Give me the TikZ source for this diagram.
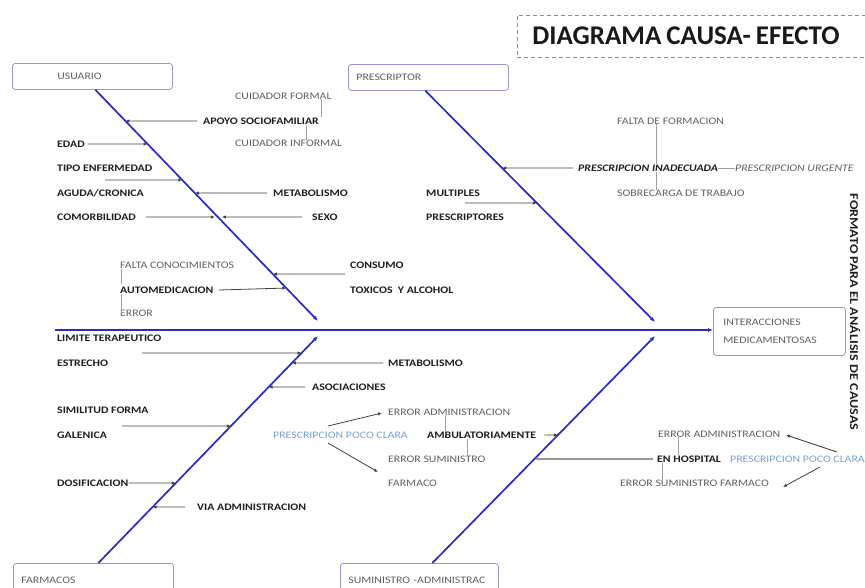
\documentclass[tikz,border=0pt]{standalone}
\usepackage{fontspec}
\setmainfont{Carlito}
\newfontfamily\smf{Carlito}[FakeStretch=1.18]
\usetikzlibrary{arrows.meta,calc}
\definecolor{bonec}{RGB}{42,42,196}
\definecolor{boxc}{RGB}{150,150,215}
\definecolor{txtd}{RGB}{30,30,30}
\definecolor{txtg}{RGB}{95,95,95}
\definecolor{txtb}{RGB}{120,160,210}
\definecolor{titlec}{RGB}{120,145,175}
\begin{document}
\begin{tikzpicture}[x=1pt,y=-1pt,
  lbl/.style={anchor=west,inner sep=0pt,font=\smf\fontsize{10}{12}\selectfont\bfseries,text=txtd},
  lbli/.style={lbl,font=\smf\fontsize{10}{12}\selectfont\bfseries\itshape},
  sub/.style={anchor=west,inner sep=0pt,font=\smf\fontsize{10}{12}\selectfont,text=txtg},
  subi/.style={sub,font=\smf\fontsize{10}{12}\selectfont\itshape},
  blu/.style={sub,text=txtb},
  catbox/.style={draw=boxc,line width=0.8pt,rounded corners=3pt,anchor=north west,
    minimum width=160pt,minimum height=26pt,inner xsep=8pt,text width=144pt,align=left,
    font=\smf\fontsize{10}{12}\selectfont,text=txtg},
  bone/.style={draw=bonec,line width=1.7pt,-{Latex[length=5pt,width=4pt]}},
  cause/.style={draw=black!75,line width=0.8pt,-{Latex[length=4pt,width=3.4pt]}},
  link/.style={draw=gray!75,line width=0.6pt}]
\useasboundingbox (0,0) rectangle (865,587);

% title and side text
\node[draw=titlec,line width=0.9pt,dash pattern=on 4pt off 3pt,anchor=west,minimum width=360pt,
  minimum height=42pt,inner xsep=15pt,text width=330pt,align=left,
  font=\bfseries\fontsize{27}{31}\selectfont,text=black!90] (title) at (517,36)
  {DIAGRAMA\hspace{5pt}CAUSA-\hspace{5pt}EFECTO};
\node[rotate=-90,font=\smf\bfseries\fontsize{12}{14}\selectfont,text=txtd] (fmt) at (855,312)
  {FORMATO PARA EL ANÁLISIS DE CAUSAS};

% category boxes and effect
\node[catbox] (usuario) at (12,63) {\hspace*{37pt}USUARIO};
\node[catbox] (prescriptor) at (348,64) {PRESCRIPTOR};
\node[catbox,minimum height=34pt] (farmacos) at (13,563) {FARMACOS};
\node[catbox,minimum width=158pt,text width=142pt,minimum height=34pt] (suministro) at (340,563) {SUMINISTRO -ADMINISTRAC};
\node[catbox,minimum width=132pt,text width=112pt,inner xsep=10pt,minimum height=48pt,
  font=\smf\fontsize{10}{18}\selectfont] (efecto) at (713,307) {INTERACCIONES\\MEDICAMENTOSAS};

% spine
\coordinate (sp0) at (55,330);
\draw[bone] (sp0) -- (sp0 -| efecto.west);

% bones
\coordinate (uA) at ([xshift=3pt]usuario.south);
\coordinate (uB) at (318,321);
\coordinate (pA) at ([xshift=-3pt]prescriptor.south);
\coordinate (pB) at (655,322);
\coordinate (fA) at ([xshift=5pt]farmacos.north);
\coordinate (fB) at (318,336);
\coordinate (sA) at ([xshift=13pt]suministro.north);
\coordinate (sB) at (655,336);
\draw[bone] (uA) -- (uB);
\draw[bone] (pA) -- (pB);
\draw[bone] (fA) -- (fB);
\draw[bone] (sA) -- (sB);

% ---------- USUARIO ----------
\node[lbl] (apoyo) at (203,121) {APOYO SOCIOFAMILIAR};
\node[sub] (cform) at (235,96) {CUIDADOR FORMAL};
\node[sub] (cinf) at (235,143) {CUIDADOR INFORMAL};
\node[lbl] (edad) at (57,144) {EDAD};
\node[lbl] (tipo) at (57,168) {TIPO ENFERMEDAD};
\node[lbl] (aguda) at (57,193) {AGUDA/CRONICA};
\node[lbl] (metabU) at (273,193) {METABOLISMO};
\node[lbl] (comorb) at (57,217) {COMORBILIDAD};
\node[lbl] (sexo) at (312,217) {SEXO};
\node[sub] (faltaC) at (120,265) {FALTA CONOCIMIENTOS};
\node[lbl] (automed) at (120,290) {AUTOMEDICACION};
\node[sub] (error) at (120,313) {ERROR};
\node[lbl] (consumo) at (350,265) {CONSUMO};
\node[lbl] (toxicos) at (350,290) {TOXICOS\ \ Y ALCOHOL};

\coordinate (hApoyo) at (intersection of uA--uB and 0,121--1,121);
\coordinate (hEdad) at (intersection of uA--uB and 0,144--1,144);
\coordinate (hTipo) at (intersection of uA--uB and 0,180--1,180);
\coordinate (hMetU) at (intersection of uA--uB and 0,193--1,193);
\coordinate (hCom) at (intersection of uA--uB and 0,217--1,217);
\coordinate (hAuto) at (intersection of uA--uB and 0,288--1,288);
\coordinate (hCons) at (intersection of uA--uB and 0,274--1,274);
\coordinate (tTipo) at (105,180);
\coordinate (tCons) at (345,274);

\draw[cause] ([xshift=-6pt]apoyo.west) -- (hApoyo);
\draw[cause] ([xshift=3pt]edad.east) -- (hEdad);
\draw[cause] (tTipo) -- (hTipo);
\draw[cause] ([xshift=-6pt]metabU.west) -- (hMetU);
\draw[cause,shorten >=3pt] ([xshift=10pt]comorb.east) -- (hCom);
\draw[cause,shorten >=4pt] ([xshift=-10pt]sexo.west) -- (hCom);
\draw[cause] ([xshift=5pt]automed.east) -- (hAuto);
\draw[cause] (tCons) -- (hCons);

\draw[link] ([xshift=-10pt]cform.south east) -- ([xshift=-10pt]cform.south east |- apoyo.north);
\draw[link] ([xshift=103pt]apoyo.south west) -- ([xshift=103pt]apoyo.south west |- cinf.north);
\draw[link] ([xshift=1pt,yshift=-1pt]faltaC.south west) -- ([xshift=1pt,yshift=2pt]faltaC.south west |- automed.north);
\draw[link] ([xshift=1pt]automed.south west) -- ([xshift=1pt,yshift=3pt]automed.south west |- error.south);

% ---------- PRESCRIPTOR ----------
\node[sub] (faltaF) at (617,121) {FALTA DE FORMACION};
\node[lbli] (inad) at (578,168) {PRESCRIPCION INADECUADA};
\node[subi] (urg) at (735,168) {PRESCRIPCION URGENTE};
\node[sub] (sobre) at (617,193) {SOBRECARGA DE TRABAJO};
\node[lbl] (multi) at (426,193) {MULTIPLES};
\node[lbl] (presc) at (426,217) {PRESCRIPTORES};

\coordinate (hInad) at (intersection of pA--pB and 0,168--1,168);
\coordinate (hMulti) at (intersection of pA--pB and 0,203--1,203);
\coordinate (tMulti) at (465,203);
\draw[cause] ([xshift=-5pt]inad.west) -- (hInad);
\draw[cause] (tMulti) -- (hMulti);
\draw[link] (inad.east) -- (urg.west);
\draw[link] ([xshift=39pt]faltaF.south west) -- ([xshift=39pt]faltaF.south west |- inad.north);
\draw[link] ([xshift=39pt]faltaF.south west |- inad.south) -- ([xshift=39pt]faltaF.south west |- sobre.north);

% ---------- FARMACOS ----------
\node[lbl] (limite) at (57,338) {LIMITE TERAPEUTICO};
\node[lbl] (estrecho) at (57,363) {ESTRECHO};
\node[lbl] (metabF) at (388,363) {METABOLISMO};
\node[lbl] (asoc) at (312,387) {ASOCIACIONES};
\node[lbl] (simil) at (57,410) {SIMILITUD FORMA};
\node[lbl] (galen) at (57,435) {GALENICA};
\node[lbl] (dosif) at (57,483) {DOSIFICACION};
\node[lbl] (via) at (197,507) {VIA ADMINISTRACION};
\node[blu] (ppc1) at (273,435) {PRESCRIPCION POCO CLARA};

\coordinate (hLim) at (intersection of fA--fB and 0,353--1,353);
\coordinate (hMetF) at (intersection of fA--fB and 0,363--1,363);
\coordinate (hAsoc) at (intersection of fA--fB and 0,387--1,387);
\coordinate (hSim) at (intersection of fA--fB and 0,426--1,426);
\coordinate (hDos) at (intersection of fA--fB and 0,483--1,483);
\coordinate (hVia) at (intersection of fA--fB and 0,507--1,507);
\coordinate (tLim) at (142,353);
\coordinate (tSim) at (122,426);
\draw[cause] (tLim) -- (hLim);
\draw[cause] ([xshift=-5pt]metabF.west) -- (hMetF);
\draw[cause] ([xshift=-7pt]asoc.west) -- (hAsoc);
\draw[cause] (tSim) -- (hSim);
\draw[cause] (dosif.east) -- (hDos);
\draw[cause] ([xshift=-12pt]via.west) -- (hVia);

% ---------- SUMINISTRO ----------
\node[sub] (eadm1) at (388,412) {ERROR ADMINISTRACION};
\node[lbl] (ambu) at (427,435) {AMBULATORIAMENTE};
\node[sub] (esum1) at (388,459) {ERROR SUMINISTRO};
\node[sub] (farm1) at (388,483) {FARMACO};
\node[lbl] (ehosp) at (657,459) {EN HOSPITAL};
\node[sub] (eadm2) at (658,434) {ERROR ADMINISTRACION};
\node[sub] (esf) at (620,483) {ERROR SUMINISTRO FARMACO};
\node[blu] (ppc2) at (730,459) {PRESCRIPCION POCO CLARA};

\coordinate (hAmbu) at (intersection of sA--sB and 0,435--1,435);
\coordinate (hHosp) at (intersection of sA--sB and 0,459--1,459);
\draw[cause] ([xshift=8pt]ambu.east) -- (hAmbu);
\draw[cause,draw=gray!80,line width=1.6pt] ([xshift=-4pt]ehosp.west) -- (hHosp);

\coordinate (q1) at (328,426);
\coordinate (q2) at (382,413);
\coordinate (q3) at (328,443);
\coordinate (q4) at (378,472);
\draw[cause] (q1) -- (q2);
\draw[cause] (q3) -- (q4);
\coordinate (r1) at (837,452);
\coordinate (r2) at (786,435);
\coordinate (r3) at (820,467);
\coordinate (r4) at (783,487);
\draw[cause] (r1) -- (r2);
\draw[cause] (r3) -- (r4);

\draw[link] ([xshift=57pt]eadm1.south west) -- ([xshift=57pt]eadm1.south west |- ambu.north);
\draw[link] ([xshift=40pt]ambu.south west) -- ([xshift=40pt]ambu.south west |- esum1.north);
\draw[link] ([xshift=20pt]eadm2.south west) -- ([xshift=20pt]eadm2.south west |- ehosp.north);
\draw[link] ([xshift=5pt]ehosp.south west) -- ([xshift=5pt]ehosp.south west |- esf.north);
\end{tikzpicture}
\end{document}
